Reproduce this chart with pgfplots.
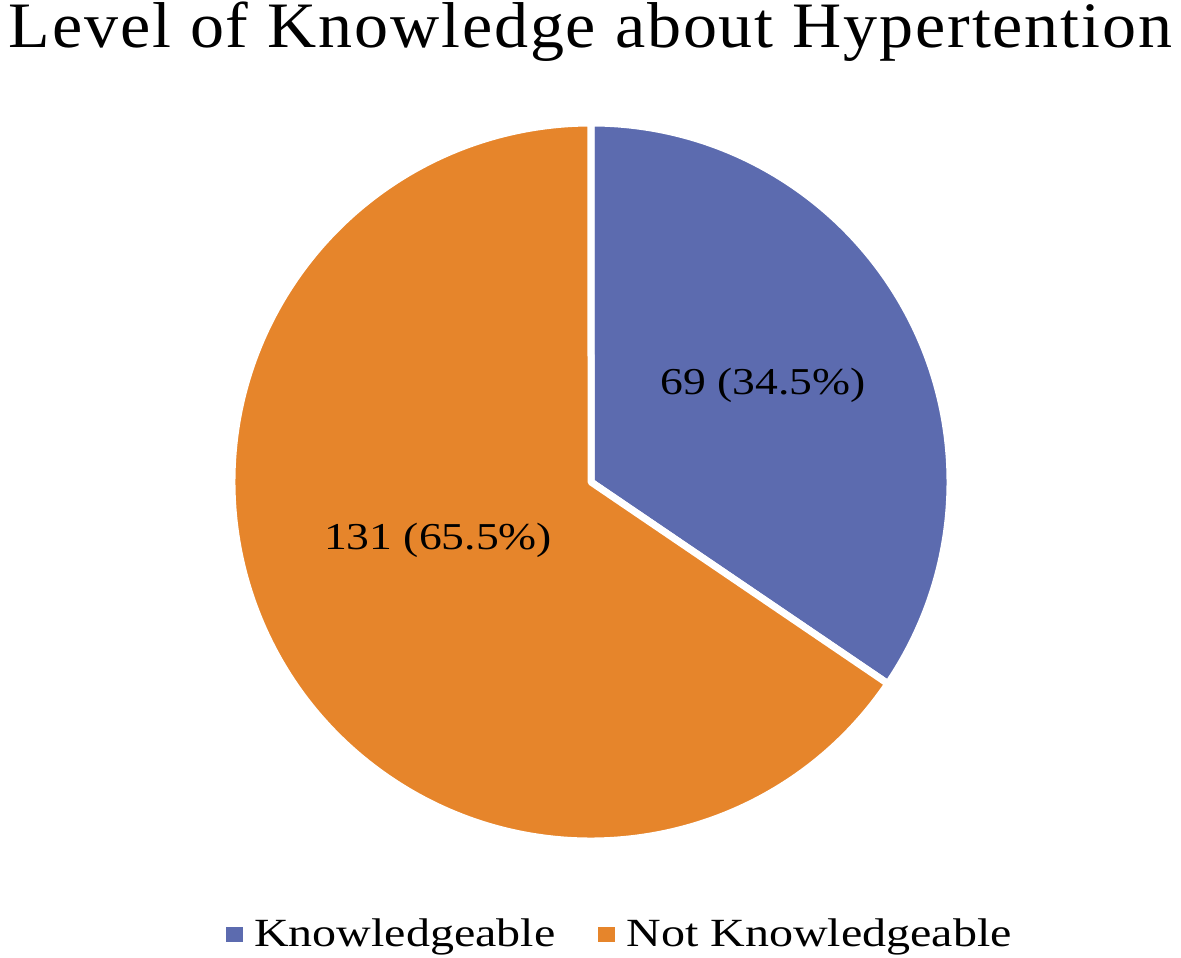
\documentclass[border=0pt]{standalone}
\usepackage{fontspec}
\setmainfont{Liberation Serif}
\newfontfamily\lblfont[FakeStretch=1.2]{Liberation Serif}
\newfontfamily\titlefont[FakeStretch=1.05,LetterSpace=2.9]{Liberation Serif}
\usepackage{pgfplots}
\usepackage{pgfplotstable}
\pgfplotsset{compat=1.18}

\definecolor{pieblue}{RGB}{92,107,175}
\definecolor{pieorange}{RGB}{230,133,43}

\pgfplotstableread[col sep=comma]{
label,value
Knowledgeable,69
Not Knowledgeable,131
}\pietable

\pgfplotstablegetelem{0}{value}\of\pietable \let\va\pgfplotsretval
\pgfplotstablegetelem{1}{value}\of\pietable \let\vb\pgfplotsretval
\pgfmathsetmacro\fracA{\va/(\va+\vb)}
\pgfmathsetmacro\fracB{\vb/(\va+\vb)}
\pgfmathsetmacro\angA{90-360*\fracA}
\pgfmathsetmacro\angB{\angA-360*\fracB}

\begin{document}
\begin{tikzpicture}
\begin{axis}[
    width=590.5pt, height=478.5pt,
    scale only axis,
    xmin=0, xmax=1181, ymin=0, ymax=957,
    hide axis,
    clip=false,
    legend columns=2,
    legend style={
        at={(0.5241,0.0235)}, anchor=center,
        draw=none, fill=none, inner sep=0pt,
        nodes={inner sep=0pt},
        font=\lblfont\fontsize{20}{24}\selectfont,
        /tikz/every odd column/.append style={column sep=5.5pt},
        /tikz/every even column/.append style={column sep=21.5pt},
    },
    legend image code/.code={
        \fill[#1,draw=none] (0pt,-3.75pt) rectangle (8.5pt,3.75pt);
    },
]
% wedges: centre point from the axis, angles from the table values
\addplot[fill=pieblue, draw=white, line width=3.5pt, line join=round]
    coordinates {(591,475)} -- ++(90:179.5pt)
    arc[start angle=90, end angle=\angA, radius=179.5pt] -- cycle;
\addlegendentry{Knowledgeable}
\addplot[fill=pieorange, draw=white, line width=3.5pt, line join=round]
    coordinates {(591,475)} -- ++(\angA:179.5pt)
    arc[start angle=\angA, end angle=\angB, radius=179.5pt] -- cycle;
\addlegendentry{Not Knowledgeable}

\node[anchor=base, inner sep=0pt, font=\titlefont\fontsize{32.4}{36}\selectfont]
    at (axis cs:590.5,909) {Level of Knowledge about Hypertention};
\node[font=\lblfont\fontsize{19}{23}\selectfont]
    at (axis cs:763,572) {69 (34.5\%)};
\node[font=\lblfont\fontsize{19}{23}\selectfont]
    at (axis cs:438,417) {131 (65.5\%)};

\coordinate (bl) at (axis cs:0,0);
\coordinate (tr) at (axis cs:1181,957);
\end{axis}
\pgfresetboundingbox
\path[use as bounding box] (bl) rectangle (tr);
\end{tikzpicture}
\end{document}
